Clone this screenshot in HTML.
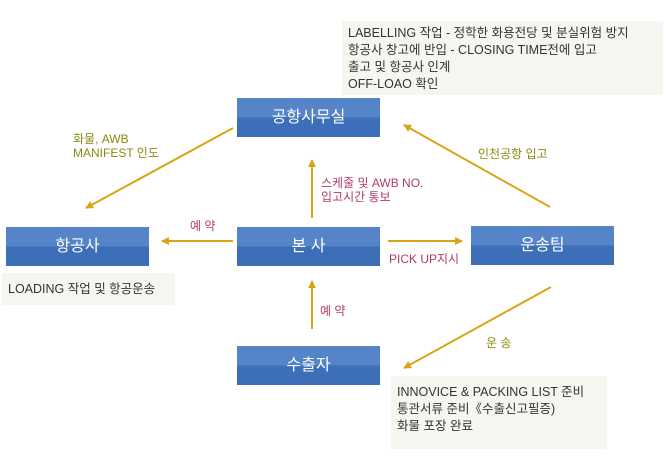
<!DOCTYPE html>
<html><head><meta charset="utf-8"><style>
body{margin:0;width:667px;height:465px;background:#fff;position:relative;overflow:hidden;font-family:"Liberation Sans","Noto Sans CJK KR",sans-serif}
.b{position:absolute;width:143px;height:39px;background:linear-gradient(#5585c8 0,#5585c8 50%,#3c6fb7 50%);color:#fff;font-size:16px;text-align:center;line-height:39px}
.n{position:absolute;background:#f6f5ef;color:#333;font-size:12.5px;line-height:17px;padding:4px 6px;box-sizing:border-box}
.l{position:absolute;font-size:12px;line-height:14px;white-space:nowrap}
.o{color:#8a8a10}.p{color:#b03a6e}
svg{position:absolute;left:0;top:0}
</style></head><body>
<div class="n" style="left:342px;top:21px;width:321px;height:74px;padding-top:4px">LABELLING 작업 - 정학한 화용전당 및 분실위험 방지<br>항공사 창고에 반입 - CLOSING TIME전에 입고<br>출고 및 항공사 인계<br>OFF-LOAO 확인</div>
<div class="n" style="left:2px;top:273px;width:173px;height:32px;padding-top:8px">LOADING 작업 및 항공운송</div>
<div class="n" style="left:391px;top:376px;width:216px;height:73px;padding-top:8px">INNOVICE &amp; PACKING LIST 준비<br>통관서류 준비《수출신고필증)<br>화물 포장 완료</div>
<div class="b" style="left:237px;top:98px">공항사무실</div>
<div class="b" style="left:237px;top:227px">본 사</div>
<div class="b" style="left:6px;top:227px">항공사</div>
<div class="b" style="left:471px;top:226px">운송팀</div>
<div class="b" style="left:237px;top:346px">수출자</div>
<svg width="667" height="465">
<defs><marker id="a" markerWidth="8" markerHeight="8" refX="7" refY="4" orient="auto" markerUnits="userSpaceOnUse"><path d="M0,0L8,4L0,8Z" fill="#d9a514"/></marker></defs>
<g stroke="#d9a514" stroke-width="2" marker-end="url(#a)">
<line x1="233" y1="128" x2="86" y2="208"/>
<line x1="233" y1="241" x2="162" y2="241"/>
<line x1="388" y1="241" x2="462" y2="241"/>
<line x1="312" y1="218" x2="312" y2="160"/>
<line x1="312" y1="329" x2="312" y2="281"/>
<line x1="550" y1="207" x2="404" y2="125"/>
<line x1="551" y1="287" x2="404" y2="368"/>
</g></svg>
<div class="l o" style="left:73px;top:132px">화물, AWB<br>MANIFEST 인도</div>
<div class="l p" style="left:190px;top:219px">예 약</div>
<div class="l p" style="left:321px;top:176px">스케줄 및 AWB NO.<br>입고시간 통보</div>
<div class="l o" style="left:478px;top:147px">인천공항 입고</div>
<div class="l p" style="left:389px;top:252px">PICK UP지시</div>
<div class="l p" style="left:320px;top:304px">예 약</div>
<div class="l o" style="left:486px;top:336px">운 송</div>
</body></html>
